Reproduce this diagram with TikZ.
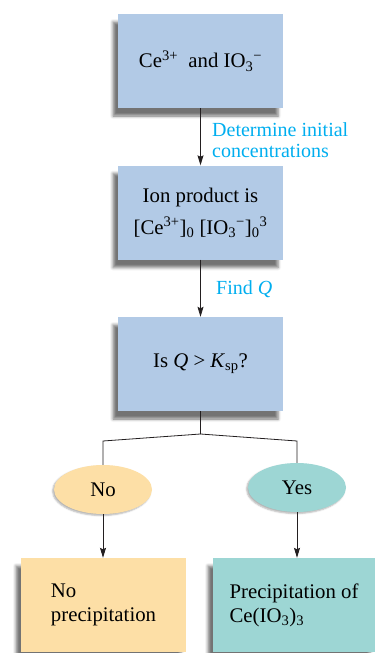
\documentclass[tikz,border=0pt]{standalone}
\usepackage{fontspec}
\setmainfont{Liberation Serif}
\usetikzlibrary{shapes.geometric,shadows.blur,arrows.meta}
\definecolor{boxblue}{HTML}{B2CAE6}
\definecolor{nocol}{HTML}{FDDFA6}
\definecolor{yescol}{HTML}{9DD6D4}
\definecolor{stepcyan}{HTML}{00AEEF}
\definecolor{linegray}{HTML}{231F20}
\begin{document}
\begin{tikzpicture}[x=1pt,y=-1pt,>={Stealth[length=10pt,width=6pt,inset=1.5pt]},
  every node/.style={font=\fontsize{20.8}{24}\selectfont},
  box/.style={fill=#1,minimum width=165pt,minimum height=94pt,inner sep=0pt,align=center,
    blur shadow={shadow xshift=-5pt,shadow yshift=-8pt,shadow blur radius=3pt,shadow opacity=55}},
  oval/.style={ellipse,fill=#1,minimum width=98pt,minimum height=49pt,inner sep=0pt,
    blur shadow={shadow xshift=-1.5pt,shadow yshift=-1.5pt,shadow blur radius=1.5pt,shadow opacity=30}},
  steplabel/.style={text=stepcyan,align=left,inner sep=0pt,font=\fontsize{20}{20.5}\selectfont},
  conn/.style={draw=linegray,line width=0.8pt}]
\useasboundingbox (0,0) rectangle (375,653);
\node[box=boxblue] (ions) at (200.5,61) {Ce\textsuperscript{3+}\ \ and IO\textsubscript{3}\textsuperscript{−}};
\node[box=boxblue] (ionprod) at (200.5,212.5) {Ion product is\\[8pt]{}[Ce\textsuperscript{3+}]\textsubscript{0} [IO\textsubscript{3}\textsuperscript{−}]\textsubscript{0}\textsuperscript{3}};
\node[box=boxblue] (test) at (200.5,364) {Is \textit{Q} > \textit{K}\textsubscript{sp}?};
\node[oval=nocol] (no) at (103,489.5) {No};
\node[oval=yescol] (yes) at (297,487.5) {Yes};
\node[box=nocol,align=left] (noppt) at (103.5,605) {No\\precipitation};
\node[box=yescol,align=left,minimum width=162pt] (yesppt) at (294,605) {Precipitation of\\Ce(IO\textsubscript{3})\textsubscript{3}};
\draw[conn,->] (ions.south) -- (ionprod.north);
\node[steplabel,anchor=west] (detlabel) at (212,140) {Determine initial\\concentrations};
\draw[conn,->] (ionprod.south) -- (test.north);
\node[steplabel,anchor=base west] (findq) at (216,294) {Find \textit{Q}};
\coordinate (fork) at (200.5,434);
\coordinate (forkL) at (103,441);
\coordinate (forkR) at (297,441);
\draw[conn] (test.south) -- (fork) -- (forkL) -- (no.north);
\draw[conn] (fork) -- (forkR) -- (yes.north);
\draw[conn,->] (no.south) -- (no.south |- noppt.north);
\draw[conn,->] (yes.south) -- (yes.south |- yesppt.north);
\end{tikzpicture}
\end{document}
